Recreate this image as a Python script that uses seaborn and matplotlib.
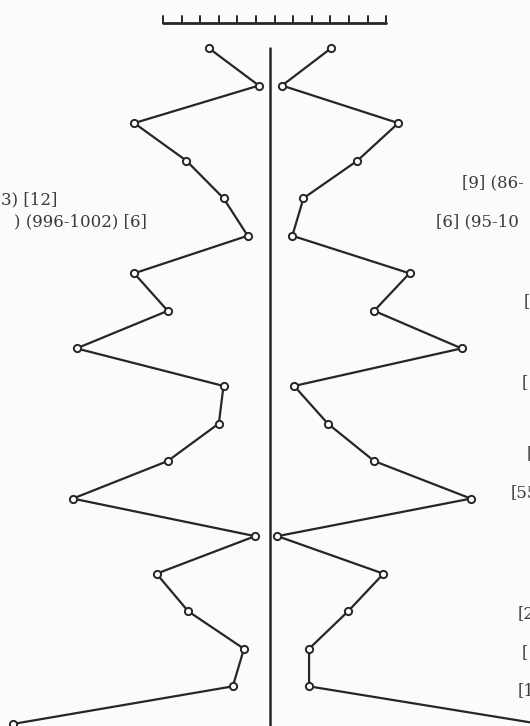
import numpy as np
import pandas as pd
import matplotlib
matplotlib.use("Agg")
import matplotlib.pyplot as plt
import seaborn as sns

# mirrored profile, values in scale-bar units measured from the centre line
row = list(range(19))
left_vals = [3.3, 0.6, 7.3, 4.5, 2.5, 1.2, 7.3, 5.5, 10.4, 2.5, 2.75, 5.5,
             10.6, 0.8, 6.1, 4.4, 1.4, 2.0, 13.8]
right_vals = [3.3, 0.65, 6.9, 4.7, 1.8, 1.2, 7.5, 5.6, 10.3, 1.3, 3.1, 5.6,
              10.8, 0.4, 6.1, 4.2, 2.1, 2.1, 14.5]

# labels cut by the page edge (only the visible part)
left_labels = ["3) [12]", ") (996-1002) [6]"]
left_label_rows = [4.05, 4.63]
left_label_end = [3.06, 7.9]
right_labels = ["[9] (86-", "[6] (95-10", "[", "[", "[", "[55", "[2", "[", "[1"]
right_label_rows = [3.6, 4.63, 6.76, 8.9, 10.8, 11.85, 15.07, 16.1, 17.1]
right_label_x = [10.3, 8.95, 13.65, 13.55, 13.8, 12.95, 13.3, 13.55, 13.3]

n_scale = 12  # tick intervals on the scale bar

sns.set_theme(style="white")
plt.rcParams['font.family'] = ['DejaVu Serif', 'DejaVu Sans']

ink = "#262626"
txt = "#3a3a3a"
bg = "#fbfbfb"

fig = plt.figure(figsize=(5.30, 7.26), dpi=100, facecolor=bg)
ax = fig.add_axes([0, 0, 1, 1])
ax.set_facecolor(bg)

px = 18.6  # pixels per scale unit
ax.set_xlim(-270 / px, 260 / px)
ax.set_ylim((726 - 48) / 37.55, -48 / 37.55)
ax.axis("off")

df = pd.DataFrame({
    "row": row + row,
    "val": [-v for v in left_vals] + right_vals,
    "side": ["left"] * len(row) + ["right"] * len(row),
})
sns.lineplot(data=df, x="val", y="row", units="side", estimator=None,
             sort=False, color=ink, lw=1.6, marker="o", markersize=5.2,
             markerfacecolor="white", markeredgecolor=ink, markeredgewidth=1.4,
             ax=ax, clip_on=False)

# centre line
ax.plot([0, 0], [0, 20], color=ink, lw=1.8, zorder=0)

# scale bar
x0 = (163 - 270) / px
yb, yt = -25 / 37.55, -32 / 37.55
ax.plot([x0, x0 + n_scale], [yb, yb], color=ink, lw=2.0)
for k in range(n_scale + 1):
    ax.plot([x0 + k, x0 + k], [yb, yt], color=ink, lw=1.4)

for t, r, x in zip(left_labels, left_label_rows, left_label_end):
    ax.text(-270 / px + x, r, t, ha="right", va="center", fontsize=12,
            color=txt)
for t, r, x in zip(right_labels, right_label_rows, right_label_x):
    ax.text(x, r, t, ha="left", va="center", fontsize=12, color=txt)

fig.savefig("out.png", dpi=100, facecolor=bg)
